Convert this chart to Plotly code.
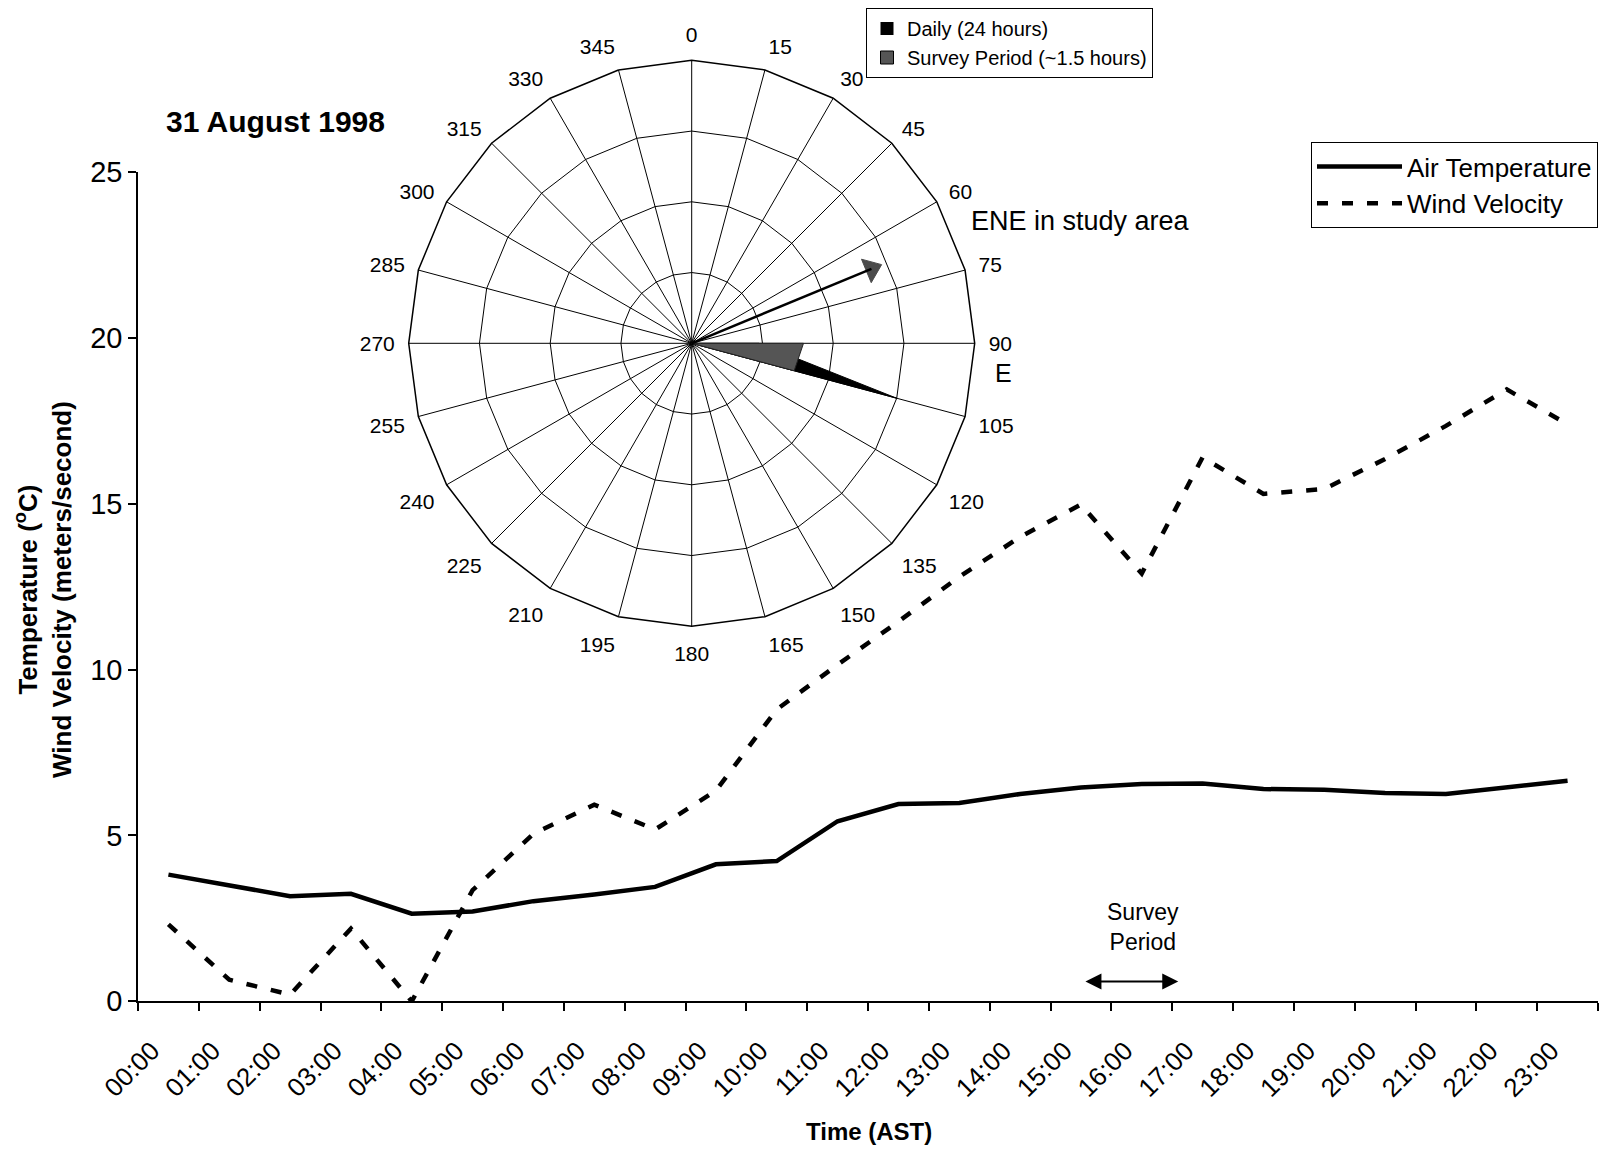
import plotly.graph_objects as go

# ---------------- data ----------------
hours = ["%02d:00" % h for h in range(24)]
hour_pos = list(range(24))                      # tick positions (category boundaries)
mid_pos = [h + 0.5 for h in range(24)]          # data sit in the middle of each hour
air_temp = [3.82, 3.49, 3.17, 3.24, 2.64, 2.71, 3.02, 3.22, 3.45, 4.13, 4.23, 5.43,
            5.95, 5.98, 6.25, 6.45, 6.55, 6.57, 6.40, 6.38, 6.28, 6.25, 6.45, 6.65]
wind_vel = [2.32, 0.65, 0.20, 2.19, 0.00, 3.35, 5.05, 5.93, 5.18, 6.35, 8.80, 10.15,
            11.45, 12.80, 14.00, 14.98, 12.90, 16.40, 15.30, 15.45, 16.35, 17.35, 18.45, 17.40]

directions = [str(d) for d in range(0, 360, 15)]
daily_freq = [0, 0, 0, 0, 0, 0, 0.95, 3.0, 0, 0, 0, 0,
              0, 0, 0, 0, 0, 0, 0, 0, 0, 0, 0, 0]
survey_freq = [0, 0, 0, 0, 0, 0, 1.58, 1.5, 0, 0, 0, 0,
               0, 0, 0, 0, 0, 0, 0, 0, 0, 0, 0, 0]
arrow_dir = 67.5      # ENE
arrow_len = 2.75
survey_start, survey_end = 15.55, 17.1

FONT = "Arial, Liberation Sans, sans-serif"

# page body has an 8px margin -> shrink the figure and shift positions
OFF = 8
W, H = 1607 - OFF, 1149 - OFF


def px(X):
    return (X - OFF) / W


def py(Y):
    return 1 - (Y - OFF) / H


fig = go.Figure()

# ---------------- main lines ----------------
fig.add_trace(go.Scatter(x=mid_pos, y=air_temp, mode="lines", name="Air Temperature",
                         line=dict(color="black", width=4.5), legend="legend"))
fig.add_trace(go.Scatter(x=mid_pos, y=wind_vel, mode="lines", name="Wind Velocity",
                         line=dict(color="black", width=4.5, dash="11px,14px"), legend="legend"))

# ---------------- wind rose ----------------
fig.add_trace(go.Scatterpolar(r=daily_freq + daily_freq[:1], theta=directions + directions[:1],
                              mode="lines", fill="toself", fillcolor="black",
                              line=dict(color="black", width=1), showlegend=False, subplot="polar"))
fig.add_trace(go.Scatterpolar(r=survey_freq + survey_freq[:1], theta=directions + directions[:1],
                              mode="lines", fill="toself", fillcolor="#555555",
                              line=dict(color="#222", width=1), showlegend=False, subplot="polar"))
fig.add_trace(go.Scatterpolar(r=[0, arrow_len], theta=[arrow_dir, arrow_dir], mode="lines+markers",
                              line=dict(color="black", width=2.5),
                              marker=dict(symbol="triangle-up", size=[0, 22], angle=[0, arrow_dir],
                                          color="black", line=dict(color="black", width=1)),
                              showlegend=False, subplot="polar2"))

# legend entries for the rose
fig.add_trace(go.Scatter(x=[None], y=[None], mode="markers", name="Daily (24 hours)",
                         marker=dict(symbol="square", size=13, color="black"), legend="legend2"))
fig.add_trace(go.Scatter(x=[None], y=[None], mode="markers", name="Survey Period (~1.5 hours)",
                         marker=dict(symbol="square", size=13, color="#555555",
                                     line=dict(color="black", width=1)), legend="legend2"))

x0, x1 = 138, 1598
y0, y1 = 1001.3, 172.2
polar_dom = dict(x=[px(408.7), px(974.7)], y=[py(626.3), py(60.3)])

fig.update_layout(
    width=W, height=H,
    margin=dict(l=0, r=0, t=0, b=0),
    paper_bgcolor="white", plot_bgcolor="white",
    font=dict(family=FONT, color="black", size=20),
    xaxis=dict(domain=[px(x0), px(x1)], range=[0, 24], automargin=False,
               tickvals=hour_pos + [24], ticktext=hours + [""], tickangle=-45,
               ticks="outside", ticklen=8, tickwidth=1.5, tickcolor="black",
               showline=True, linecolor="black", linewidth=1.5, showgrid=False, zeroline=False,
               tickfont=dict(size=26, family=FONT), ticklabelstandoff=14, ticklabelshift=14),
    yaxis=dict(domain=[py(y0), py(y1)], range=[0, 25], automargin=False,
               tickvals=[0, 5, 10, 15, 20, 25],
               ticks="outside", ticklen=8, tickwidth=1.5, tickcolor="black",
               showline=True, linecolor="black", linewidth=1.5, showgrid=False, zeroline=False,
               tickfont=dict(size=29, family=FONT)),
    polar=dict(domain=polar_dom, bgcolor="white", gridshape="linear",
               angularaxis=dict(type="category", categoryarray=directions, direction="clockwise",
                                rotation=90, showline=True, linecolor="black", linewidth=1.5,
                                gridcolor="black", gridwidth=1, ticks="outside", ticklen=9,
                                tickcolor="rgba(0,0,0,0)",
                                tickfont=dict(size=21, family=FONT)),
               radialaxis=dict(range=[0, 4], tickvals=[1, 2, 3], showticklabels=False,
                               showline=False, gridcolor="black", gridwidth=1, ticks="")),
    polar2=dict(domain=polar_dom, bgcolor="rgba(0,0,0,0)",
                angularaxis=dict(visible=False, direction="clockwise", rotation=90),
                radialaxis=dict(visible=False, range=[0, 4])),
    legend=dict(x=px(1311), y=py(142), xanchor="left", yanchor="top",
                bordercolor="black", borderwidth=1, bgcolor="white",
                font=dict(size=26, family=FONT), itemwidth=85, tracegroupgap=0),
    legend2=dict(x=px(866), y=py(8), xanchor="left", yanchor="top",
                 bordercolor="black", borderwidth=1, bgcolor="white",
                 font=dict(size=20, family=FONT), itemwidth=30),
    showlegend=True,
)


def txt(text, X, Y, size, bold=False, angle=0):
    return dict(text=("<b>%s</b>" % text) if bold else text, x=px(X), y=py(Y),
                xref="paper", yref="paper", xanchor="center", yanchor="middle",
                textangle=angle, showarrow=False, font=dict(size=size, family=FONT))


ann = [
    txt("31 August 1998", 275, 121, 30, bold=True),
    txt("ENE in study area", 1080, 221, 27),
    txt("E", 1003, 373, 25),
    txt("Time (AST)", 869, 1131, 24, bold=True),
    txt("Temperature (<sup>o</sup>C)<br>Wind Velocity (meters/second)", 43, 590, 26,
        bold=True, angle=-90),
    dict(text="Survey<br>Period", x=(survey_start + survey_end) / 2 + 0.2, y=2.25,
         xref="x", yref="y", xanchor="center", yanchor="middle", showarrow=False,
         font=dict(size=23, family=FONT)),
    dict(text="", x=survey_end, y=0.6, ax=survey_start, ay=0.6, xref="x", yref="y",
         axref="x", ayref="y", showarrow=True, arrowside="end+start", arrowhead=2,
         arrowsize=1.6, arrowwidth=2, arrowcolor="black"),
]
fig.update_layout(annotations=ann)

fig.write_html("out.html")
